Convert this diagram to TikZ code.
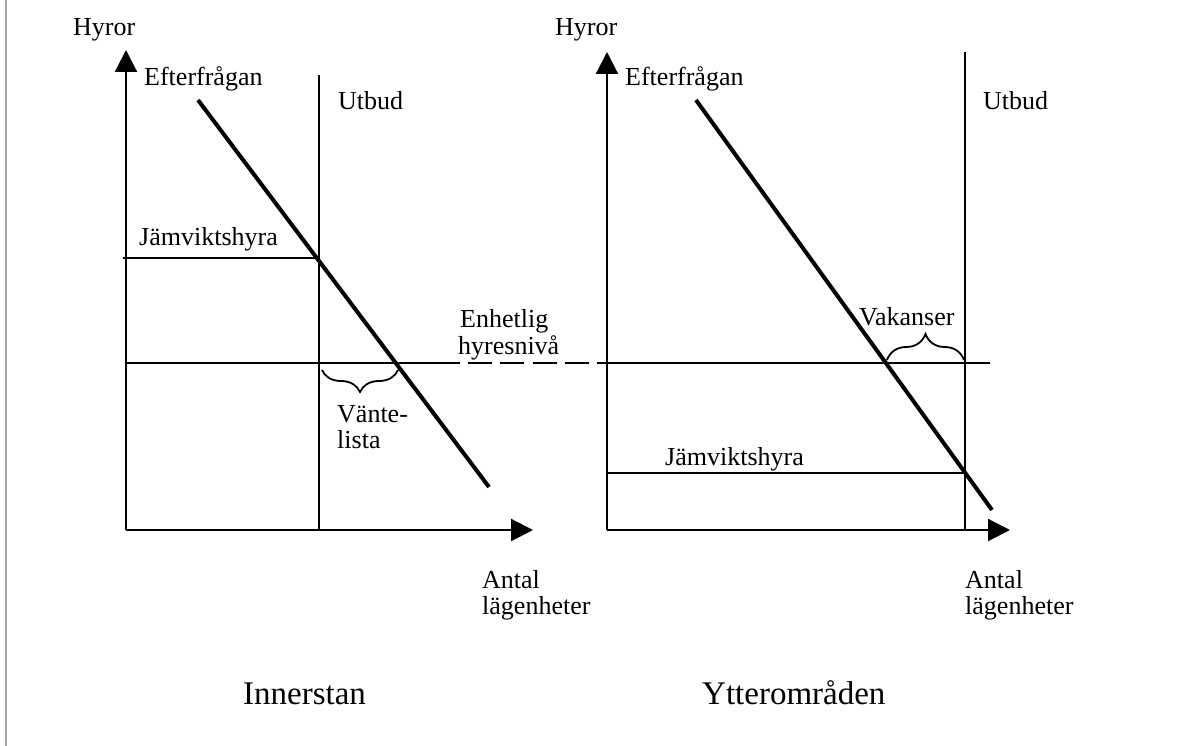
\documentclass[tikz,border=0pt]{standalone}
\usepackage{fontspec}
\setmainfont{Liberation Serif}
\usetikzlibrary{arrows.meta,decorations.pathreplacing}
\begin{document}
\begin{tikzpicture}[x=1pt,y=-1pt,
  lbl/.style={anchor=base west,inner sep=0pt,font=\fontsize{26}{28}\selectfont},
  ttl/.style={anchor=base west,inner sep=0pt,font=\fontsize{33}{36}\selectfont},
  axisline/.style={line width=2.2pt,-{Triangle[length=22pt,width=22pt]}},
  plain/.style={line width=2pt},
  demand/.style={line width=4pt},
  curly/.style={line width=1.8pt,decorate,decoration={brace,amplitude=#1}}]

% page and left frame line
\fill[white] (0,0) rectangle (1195,746);
\useasboundingbox (0,0) rectangle (1195,746);
\draw[gray!70,line width=1.5pt] (6,0) -- (6,746);

% ---------- Innerstan ----------
\coordinate (O1) at (126,530);
\coordinate (Y1) at (126,50);
\coordinate (X1) at (533,530);
\coordinate (S1t) at (319,75);
\coordinate (S1b) at (319,530);
\coordinate (D1s) at (198,100);
\coordinate (D1e) at (489,487);
\coordinate (J1a) at (123,258);
\coordinate (J1b) at (319,258);
\coordinate (B1a) at (322,370);
\coordinate (B1b) at (398,370);

\draw[axisline] (O1) -- (Y1);
\draw[axisline] (O1) -- (X1);
\draw[plain] (S1t) -- (S1b);
\draw[plain] (J1a) -- (J1b);
\draw[demand] (D1s) -- (D1e);
\draw[curly=22pt,decoration={mirror}] (B1a) -- (B1b);

\node[lbl] (hy1) at (73,36) {Hyror};
\node[lbl] (ef1) at (144,86) {Efterfrågan};
\node[lbl] (ut1) at (338,110) {Utbud};
\node[lbl] (jv1) at (139,246) {Jämviktshyra};
\node[lbl] (vl1) at (337,422) {Vänte-};
\node[lbl] (vl2) at (337,448) {lista};
\node[lbl] (an1) at (482,588) {Antal};
\node[lbl] (lg1) at (482,614) {lägenheter};
\node[ttl] (in1) at (243,704) {Innerstan};

% ---------- common rent level ----------
\coordinate (H0) at (126,363);
\coordinate (H1) at (460,363);
\coordinate (H2) at (468,363);
\coordinate (H3) at (589,363);
\coordinate (H4) at (597,363);
\coordinate (H5) at (990,363);
\draw[plain] (H0) -- (H1);
\draw[plain,dash pattern=on 24pt off 8.3pt] (H2) -- (H3);
\draw[plain] (H4) -- (H5);
\node[lbl] (en1) at (460,327) {Enhetlig};
\node[lbl] (en2) at (458,355) {hyresnivå};

% ---------- Ytterområden ----------
\coordinate (O2) at (607,530);
\coordinate (Y2) at (607,52);
\coordinate (X2) at (1010,530);
\coordinate (S2t) at (965,52);
\coordinate (S2b) at (965,530);
\coordinate (D2s) at (696,100);
\coordinate (D2e) at (992,510);
\coordinate (J2a) at (607,473);
\coordinate (J2b) at (965,473);
\coordinate (B2a) at (887,360);
\coordinate (B2b) at (964,360);

\draw[axisline] (O2) -- (Y2);
\draw[axisline] (O2) -- (X2);
\draw[plain] (S2t) -- (S2b);
\draw[plain] (J2a) -- (J2b);
\draw[demand] (D2s) -- (D2e);
\draw[curly=26pt] (B2a) -- (B2b);

\node[lbl] (hy2) at (555,36) {Hyror};
\node[lbl] (ef2) at (625,86) {Efterfrågan};
\node[lbl] (ut2) at (983,110) {Utbud};
\node[lbl] (jv2) at (665,465) {Jämviktshyra};
\node[lbl] (vk2) at (859,326) {Vakanser};
\node[lbl] (an2) at (965,588) {Antal};
\node[lbl] (lg2) at (965,614) {lägenheter};
\node[ttl] (yt2) at (702,704) {Ytterområden};
\end{tikzpicture}
\end{document}
